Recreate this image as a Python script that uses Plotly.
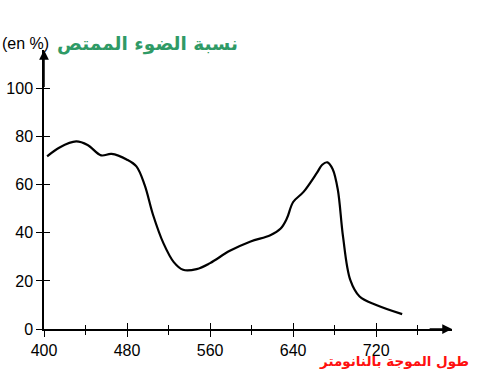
import plotly.graph_objects as go

# Data
wavelength_nm = [403, 415, 431, 442, 455, 465, 480, 489, 497, 505, 515, 525, 534, 547, 560, 579,
                 599, 618, 628, 634, 640, 650, 663, 668, 673, 678, 683, 688, 695, 704, 720, 745]
absorbed_pct = [71.8, 75.5, 78.0, 76.5, 72.2, 72.8, 70.4, 67.6, 59.8, 47.5, 35.7, 27.8, 24.6, 24.9, 27.4, 32.5,
                36.4, 39.0, 41.8, 46.0, 52.8, 57.0, 65.0, 68.3, 69.3, 66.5, 58.0, 38.5, 20.4, 13.5, 10.0, 6.2]
x_ticks = [400, 480, 560, 640, 720]
y_ticks = [0, 20, 40, 60, 80, 100]

W, H = 491, 378
L, R, T, B = 44, 39, 50, 49
pw, ph = W - L - R, H - T - B

def px(xp):
    return (xp - L) / pw

def py(yp):
    return (H - B - yp) / ph

fig = go.Figure()
fig.add_trace(go.Scatter(x=wavelength_nm, y=absorbed_pct, mode="lines",
                         line=dict(color="black", width=2.2, shape="spline", smoothing=1.0),
                         hoverinfo="skip", showlegend=False))
# invisible trace for the second (inside-tick) axes
fig.add_trace(go.Scatter(x=[400], y=[0], xaxis="x2", yaxis="y2", mode="markers",
                         marker=dict(opacity=0), showlegend=False, hoverinfo="skip"))

axis_font = dict(family="Liberation Sans, Arial, sans-serif", size=16, color="black")
xr = [400, 793]
yr = [0, 116]
fig.update_layout(
    width=W, height=H, margin=dict(l=L, r=R, t=T, b=B, autoexpand=False),
    paper_bgcolor="white", plot_bgcolor="white",
    xaxis=dict(range=xr, tickvals=x_ticks, ticktext=[str(v) for v in x_ticks],
               ticks="outside", ticklen=6, tickwidth=1.3, tickcolor="black",
               minor=dict(dtick=40, tick0=400, ticks="outside", ticklen=4, tickwidth=1.2, tickcolor="black"),
               showline=True, linecolor="black", linewidth=1.5, showgrid=False, zeroline=False,
               tickfont=axis_font, automargin=False),
    yaxis=dict(range=yr, tickvals=y_ticks, ticks="outside", ticklen=6, tickwidth=1.3, tickcolor="black",
               showline=True, linecolor="black", linewidth=1.5, showgrid=False, zeroline=False,
               tickfont=axis_font, automargin=False),
    xaxis2=dict(overlaying="x", range=xr, tickvals=x_ticks, ticks="inside", ticklen=6, tickwidth=1.3,
                tickcolor="black", showticklabels=False, showgrid=False, zeroline=False, side="bottom",
                automargin=False,
                minor=dict(dtick=40, tick0=400, ticks="inside", ticklen=4, tickwidth=1.2, tickcolor="black")),
    yaxis2=dict(overlaying="y", range=yr, tickvals=y_ticks, ticks="inside", ticklen=6, tickwidth=1.3,
                tickcolor="black", showticklabels=False, showgrid=False, zeroline=False, side="left",
                automargin=False),
)

# arrowheads on axes
fig.add_annotation(x=793, y=0, ax=770, ay=0, xref="x", yref="y", axref="x", ayref="y",
                   showarrow=True, arrowhead=2, arrowsize=1.3, arrowwidth=1.5, arrowcolor="black",
                   standoff=0, text="")
fig.add_annotation(x=400, y=116, ax=400, ay=100, xref="x", yref="y", axref="x", ayref="y",
                   showarrow=True, arrowhead=2, arrowsize=1.3, arrowwidth=1.5, arrowcolor="black",
                   standoff=0, text="")

fig.add_annotation(text="(en %)", x=px(51), y=py(43), xref="paper", yref="paper",
                   xanchor="right", yanchor="middle", showarrow=False,
                   font=dict(family="Liberation Sans, Arial, sans-serif", size=16, color="black"))
fig.add_annotation(text="<b>نسبة الضوء الممتص</b>", x=px(55), y=py(44), xref="paper", yref="paper",
                   xanchor="left", yanchor="middle", showarrow=False,
                   font=dict(family="DejaVu Sans", size=18.5, color="#2f9a66"))
fig.add_annotation(text="<b>طول الموجة بالنانومتر</b>", x=px(394), y=py(361), xref="paper", yref="paper",
                   xanchor="center", yanchor="middle", showarrow=False,
                   font=dict(family="DejaVu Sans", size=13.5, color="#ff1010"))

fig.write_html("out.html")
